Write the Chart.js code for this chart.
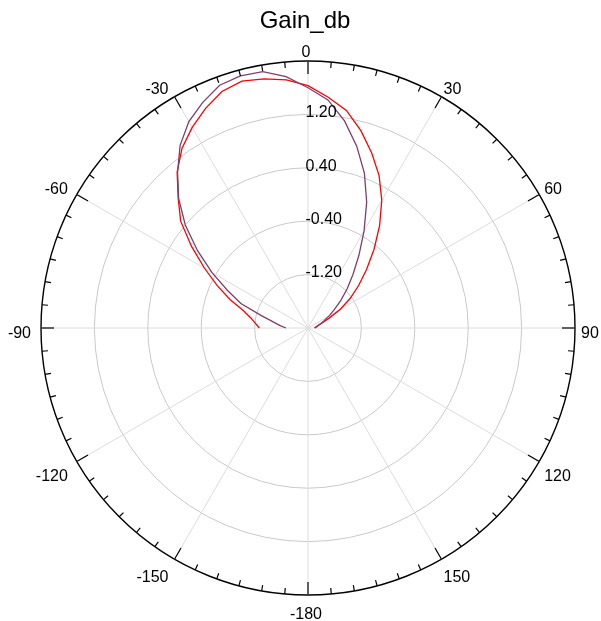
<!DOCTYPE html>
<html>
<head>
<meta charset="utf-8">
<script src="https://cdn.jsdelivr.net/npm/chart.js@4.4.1/dist/chart.umd.min.js"></script>
<style>
  html, body { margin: 0; padding: 0; background: #ffffff; }
  #wrap { width: 601px; height: 621px; }
</style>
</head>
<body>
<div id="wrap"><canvas id="polar" width="601" height="621"></canvas></div>
<script>
// Polar gain pattern, angle in degrees clockwise from the top
const TITLE = 'Gain_db';
const ANGLES = [-90, -85, -80, -75, -70, -65, -60, -55, -50, -45, -40, -35, -30, -25, -20, -15, -10, -5,
                0, 5, 10, 15, 20, 25, 30, 35, 40, 45, 50, 55, 60, 65, 70, 75, 80, 85, 90];
const GAIN_RED = [-1.27, -1.21, -1.13, -1.00, -0.76, -0.50, -0.21, 0.13, 0.49, 0.75, 1.05, 1.29, 1.47,
                  1.63, 1.77, 1.83, 1.79, 1.73, 1.63, 1.47, 1.31, 1.06, 0.79, 0.52, 0.21, -0.13, -0.46,
                  -0.76, -1.01, -1.23, -1.44, -1.65, -1.77, -1.83, -1.86, -1.88, -1.90];
const GAIN_PURPLE = [-1.67, -1.58, -1.47, -1.27, -0.93, -0.67, -0.34, 0.02, 0.40, 0.74, 1.04, 1.34, 1.57,
                     1.73, 1.87, 1.91, 1.90, 1.78, 1.60, 1.43, 1.15, 0.82, 0.47, 0.08, -0.32, -0.67, -0.95,
                     -1.17, -1.36, -1.52, -1.63, -1.73, -1.79, -1.84, -1.87, -1.89, -1.90];
const RADIAL_MIN = -2;
const RADIAL_MAX = 2;
const RADIAL_STEP = 0.8;
const RADIAL_TICK_LABELS = [-1.2, -0.4, 0.4, 1.2];
const ANGLE_TICK_LABELS = [0, 30, 60, 90, 120, 150, -180, -150, -120, -90, -60, -30];
const ANGLE_STEP = 5;

const FONT = "'Liberation Sans', Arial, Helvetica, sans-serif";

// one slot per 5 degrees around the full circle, starting at the top
const slotCount = 360 / ANGLE_STEP;
const slotLabels = [];
for (let i = 0; i < slotCount; i++) {
  const a = i * ANGLE_STEP;
  slotLabels.push(a < 180 ? a : a - 360);
}
function slotOf(angle) {
  return Math.round((((angle % 360) + 360) % 360) / ANGLE_STEP);
}
function toSlots(values) {
  const out = new Array(slotCount).fill(null);
  ANGLES.forEach((a, k) => { out[slotOf(a)] = values[k]; });
  return out;
}

const outerDecor = {
  id: 'outerDecor',
  afterDraw(chart) {
    const scale = chart.scales.r;
    const ctx = chart.ctx;
    const R = scale.drawingArea;
    ctx.save();

    // tick marks on the rim, every 5 degrees, longer every 30
    ctx.strokeStyle = '#000000';
    ctx.lineWidth = 1.2;
    for (let i = 0; i < slotCount; i++) {
      const major = (slotLabels[i] % 30) === 0;
      const len = major ? 13 : 6;
      const p0 = scale.getPointPosition(i, R);
      const p1 = scale.getPointPosition(i, R - len);
      ctx.beginPath();
      ctx.moveTo(p0.x, p0.y);
      ctx.lineTo(p1.x, p1.y);
      ctx.stroke();
    }

    // angle labels round the rim
    ctx.fillStyle = '#000000';
    ctx.font = '16px ' + FONT;
    const cap = 0.716 * 16;
    ANGLE_TICK_LABELS.forEach(lbl => {
      const idx = slotOf(lbl);
      const th = lbl * Math.PI / 180;
      const s = Math.sin(th), c = Math.cos(th);
      const p = scale.getPointPosition(idx, R + 8);
      let align = 'center';
      if (s > 0.01) align = 'left';
      else if (s < -0.01) align = 'right';
      let cy;
      if (c > 0.01) cy = p.y - 2;
      else if (c < -0.01) cy = p.y + 10;
      else cy = p.y + 4;
      ctx.textAlign = align;
      ctx.textBaseline = 'alphabetic';
      ctx.fillText(String(lbl), p.x - 2, cy + cap / 2);
    });

    // radial value labels along the 0 degree spoke
    ctx.font = '16px ' + FONT;
    ctx.textAlign = 'left';
    RADIAL_TICK_LABELS.forEach(v => {
      const y = scale.yCenter - scale.getDistanceFromCenterForValue(v);
      ctx.fillText(v.toFixed(2), scale.xCenter - 2.5, y + 2.8);
    });

    // title
    ctx.font = '24px ' + FONT;
    ctx.textAlign = 'center';
    ctx.fillText(TITLE, (chart.chartArea.left + chart.chartArea.right) / 2 - 3, 28);
    ctx.restore();
  }
};

new Chart(document.getElementById('polar'), {
  type: 'radar',
  data: {
    labels: slotLabels,
    datasets: [
      {
        label: 'Gain_db A',
        data: toSlots(GAIN_PURPLE),
        borderColor: '#7f3f6c',
        borderWidth: 1.3,
        pointRadius: 0,
        fill: false,
        tension: 0,
        spanGaps: false
      },
      {
        label: 'Gain_db B',
        data: toSlots(GAIN_RED),
        borderColor: '#ff0000',
        borderWidth: 1.3,
        pointRadius: 0,
        fill: false,
        tension: 0,
        spanGaps: false
      }
    ]
  },
  options: {
    responsive: false,
    animation: false,
    devicePixelRatio: 1,
    layout: { padding: { left: 41, right: 26, top: 61, bottom: 26 } },
    plugins: {
      legend: { display: false },
      title: { display: false },
      tooltip: { enabled: false }
    },
    scales: {
      r: {
        min: RADIAL_MIN,
        max: RADIAL_MAX,
        startAngle: 0,
        ticks: { display: false, stepSize: RADIAL_STEP },
        pointLabels: { display: false },
        grid: {
          circular: true,
          color: ctx => (ctx.tick && ctx.tick.value >= RADIAL_MAX - 1e-6) ? '#000000' : '#c9c9c9',
          lineWidth: ctx => (ctx.tick && ctx.tick.value >= RADIAL_MAX - 1e-6) ? 1.4 : 1
        },
        angleLines: {
          display: true,
          color: ctx => (slotLabels[ctx.index] % 30 === 0) ? '#dcdcdc' : 'rgba(0,0,0,0)',
          lineWidth: ctx => (slotLabels[ctx.index] % 30 === 0) ? 1 : 0
        }
      }
    }
  },
  plugins: [outerDecor]
});
</script>
</body>
</html>
